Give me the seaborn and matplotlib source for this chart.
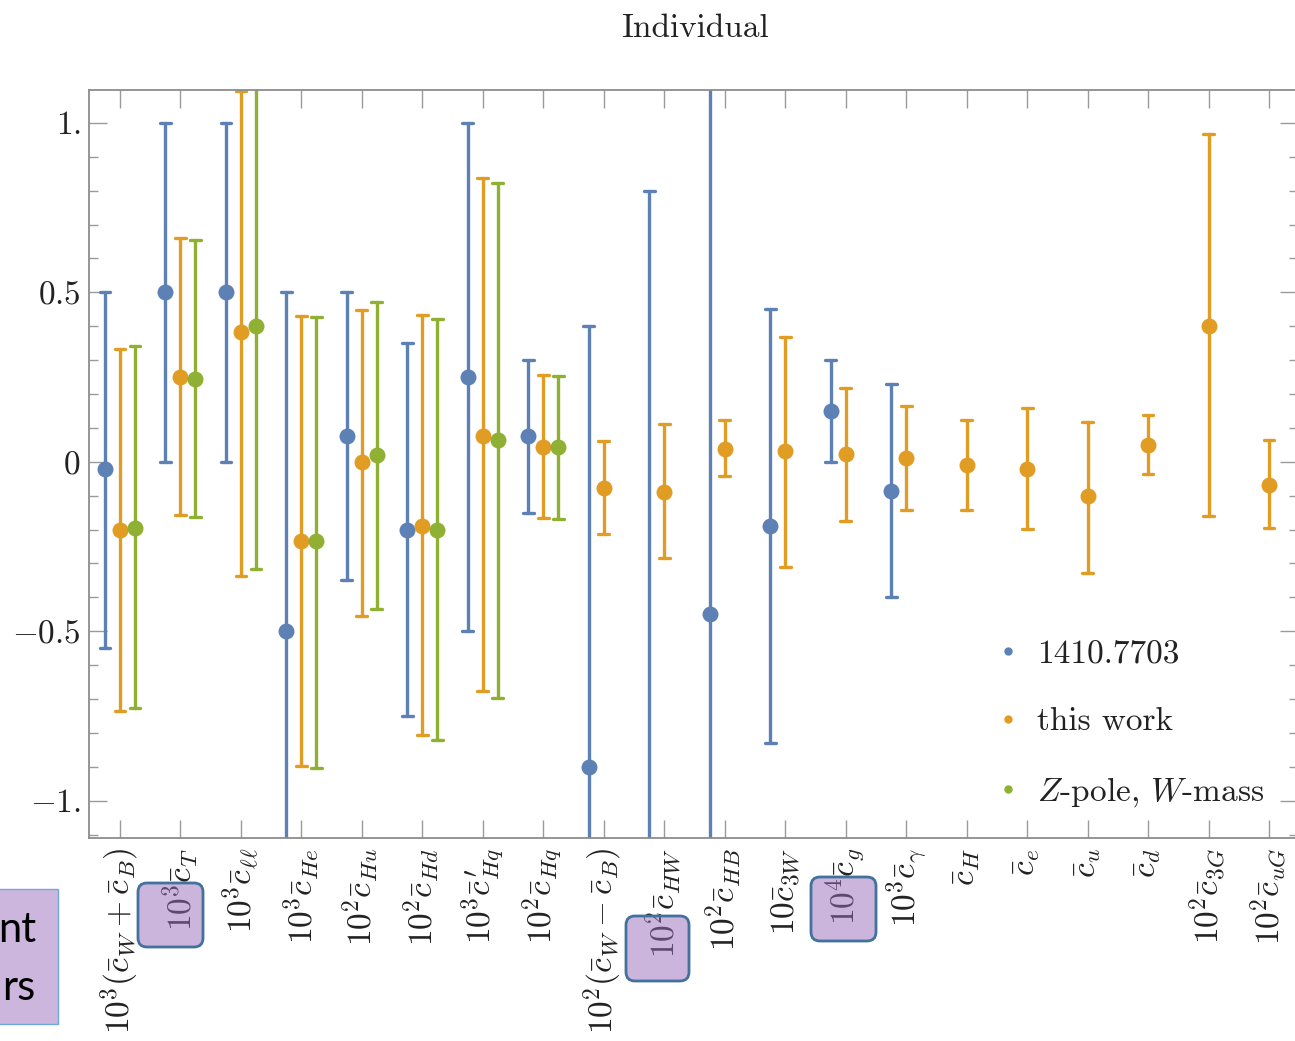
import numpy as np
import pandas as pd
import matplotlib
matplotlib.use("Agg")
import matplotlib.pyplot as plt
from matplotlib.lines import Line2D
from matplotlib.patches import FancyBboxPatch, Rectangle
from matplotlib.ticker import MultipleLocator
import seaborn as sns

# --- data ----------------------------------------------------------------
params = [
    r"$10^3(\bar{c}_W+\bar{c}_B)$", r"$10^3\bar{c}_T$", r"$10^3\bar{c}_{\ell\ell}$",
    r"$10^3\bar{c}_{He}$", r"$10^2\bar{c}_{Hu}$", r"$10^2\bar{c}_{Hd}$",
    r"$10^3\bar{c}^{\,\prime}_{Hq}$", r"$10^2\bar{c}_{Hq}$", r"$10^2(\bar{c}_W-\bar{c}_B)$",
    r"$10^2\bar{c}_{HW}$", r"$10^2\bar{c}_{HB}$", r"$10\bar{c}_{3W}$",
    r"$10^4\bar{c}_g$", r"$10^3\bar{c}_\gamma$", r"$\bar{c}_H$", r"$\bar{c}_e$",
    r"$\bar{c}_u$", r"$\bar{c}_d$", r"$10^2\bar{c}_{3G}$", r"$10^2\bar{c}_{uG}$",
]
series_names = ["1410.7703", "this work", "Z-pole, W-mass"]
series_labels = ["1410.7703", "this work", r"$Z$-pole, $W$-mass"]

# 1410.7703 (first 14 parameters)
prev_center = [-0.02, 0.50, 0.50, -0.50, 0.075, -0.20, 0.25, 0.075, -0.90, -1.35, -0.45, -0.19, 0.15, -0.085]
prev_low = [-0.55, 0.00, 0.00, -1.50, -0.35, -0.75, -0.50, -0.15, -2.20, -3.50, -2.45, -0.83, 0.00, -0.40]
prev_high = [0.50, 1.00, 1.00, 0.50, 0.50, 0.35, 1.00, 0.30, 0.40, 0.80, 1.55, 0.45, 0.30, 0.23]

# this work (all parameters)
work_center = [-0.20, 0.25, 0.383, -0.235, 0.0, -0.189, 0.077, 0.044, -0.076, -0.088,
               0.038, 0.031, 0.024, 0.01, -0.008, -0.022, -0.102, 0.051, 0.402, -0.069]
work_low = [-0.735, -0.157, -0.336, -0.898, -0.454, -0.806, -0.676, -0.167, -0.214, -0.284,
            -0.042, -0.31, -0.174, -0.141, -0.141, -0.198, -0.327, -0.035, -0.161, -0.194]
work_high = [0.333, 0.659, 1.095, 0.431, 0.448, 0.433, 0.836, 0.255, 0.06, 0.111,
             0.122, 0.368, 0.218, 0.164, 0.122, 0.158, 0.117, 0.139, 0.966, 0.065]

# Z-pole, W-mass (first 8 parameters)
zw_center = [-0.194, 0.244, 0.402, -0.235, 0.019, -0.202, 0.064, 0.044]
zw_low = [-0.727, -0.163, -0.317, -0.902, -0.435, -0.82, -0.698, -0.17]
zw_high = [0.341, 0.653, 1.15, 0.426, 0.471, 0.422, 0.824, 0.253]

colors = ["#5E81B5", "#E19C24", "#8FB032"]

# long-form table: each point = (low, centre, high); median -> centre, min/max -> bars
rows = []
for name, cen, lo, hi in zip(series_names,
                             [prev_center, work_center, zw_center],
                             [prev_low, work_low, zw_low],
                             [prev_high, work_high, zw_high]):
    for p, c, l, h in zip(params, cen, lo, hi):
        for v in (l, c, h):
            rows.append({"param": p, "series": name, "value": v})
df = pd.DataFrame(rows)

sns.set_theme(style="ticks")
plt.rcParams["font.family"] = ["cmr10", "DejaVu Sans"]
plt.rcParams["mathtext.fontset"] = "cm"
plt.rcParams["axes.formatter.use_mathtext"] = True

fig = plt.figure(figsize=(12.95, 10.41), dpi=100)
ax = fig.add_axes([89 / 1295, 1 - 838 / 1041, (1298 - 89) / 1295, (838 - 90) / 1041])

sns.pointplot(data=df, x="param", y="value", hue="series", order=params,
              hue_order=series_names, palette=colors, estimator="median",
              errorbar=lambda v: (v.min(), v.max()), dodge=0.496,
              linestyle="none", markers="o", markersize=11.5, markeredgewidth=0,
              capsize=0.18, err_kws={"linewidth": 2.4}, legend=False, ax=ax)

ax.set_xlim(-0.513, 19.48)
ax.set_ylim(-1.11, 1.097)
ax.set_yticks([-1, -0.5, 0, 0.5, 1])
ax.set_yticklabels([r"$-1.$", r"$-0.5$", r"$0$", r"$0.5$", r"$1.$"])
ax.yaxis.set_minor_locator(MultipleLocator(0.1))
ax.set_xlabel("")
ax.set_ylabel("")
ax.tick_params(axis="both", which="both", direction="in", top=True, right=True,
               color="#9a9a9a", width=1)
ax.tick_params(which="major", length=13)
ax.tick_params(which="minor", length=6.5)
ax.tick_params(axis="x", which="minor", bottom=False, top=False)
ax.tick_params(axis="x", labelrotation=90, labelsize=24, pad=7, labelcolor="#222222")
ax.tick_params(axis="y", labelsize=24, pad=6, labelcolor="#222222")
for s in ax.spines.values():
    s.set_color("#8c8c8c")
    s.set_linewidth(1.3)

handles = [Line2D([], [], marker="o", linestyle="none", color=c, markersize=5) for c in colors]
ax.legend(handles, series_labels, loc="center left",
          bbox_to_anchor=(998 / 1295, 1 - 724 / 1041), bbox_transform=fig.transFigure,
          frameon=False, fontsize=24, handlelength=0.6, handletextpad=0.57,
          labelspacing=1.15, borderpad=0, borderaxespad=0, labelcolor="#222222")

fig.text(695 / 1295, 1 - 28 / 1041, "Individual", ha="center", va="center",
         fontsize=24, color="#222222")

# slide annotation boxes on top of the figure
ov = fig.add_axes([0, 0, 1, 1])
ov.set_xlim(0, 1295)
ov.set_ylim(1041, 0)
ov.axis("off")
ov.add_patch(Rectangle((-3, 889), 61, 135, facecolor="#CCB6DE", edgecolor="#6FA8DC", lw=1))
ov.text(36, 930, "nt", ha="right", va="center", fontsize=30, family="Lato", color="black")
ov.text(35, 988, "rs", ha="right", va="center", fontsize=30, family="Lato", color="black")
for x0, y0, x1, y1 in [(138, 883, 203, 947), (626, 916, 689, 981), (811, 877, 876, 941)]:
    ov.add_patch(FancyBboxPatch((x0, y0), x1 - x0, y1 - y0,
                                boxstyle="round,pad=0,rounding_size=9",
                                facecolor="#996DBD", alpha=0.5, edgecolor="none"))
    ov.add_patch(FancyBboxPatch((x0, y0), x1 - x0, y1 - y0,
                                boxstyle="round,pad=0,rounding_size=9",
                                facecolor="none", edgecolor="#41719C", lw=2))

fig.savefig("out.png", dpi=100)
